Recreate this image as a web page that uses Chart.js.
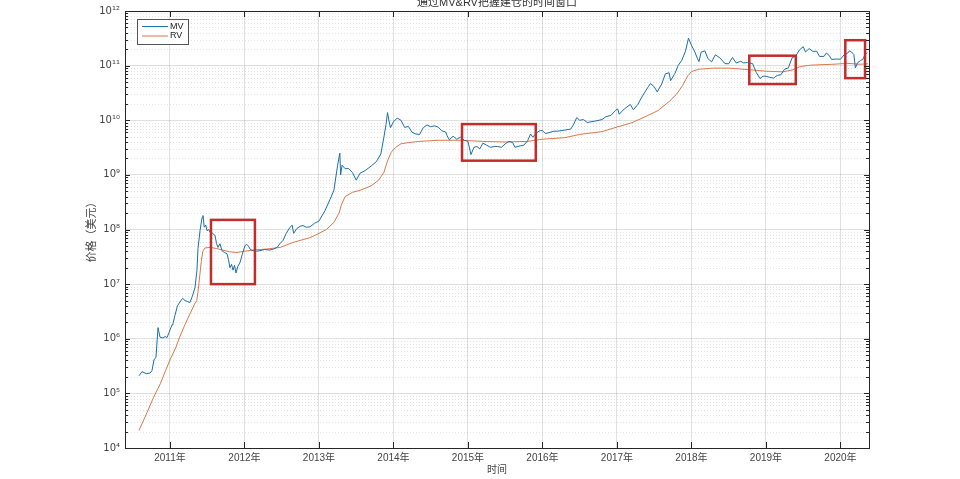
<!DOCTYPE html>
<html>
<head>
<meta charset="utf-8">
<script src="https://cdn.jsdelivr.net/npm/chart.js@4/dist/chart.umd.min.js"></script>
<style>
html,body{margin:0;padding:0;background:#fff;}
#wrap{width:960px;height:479px;position:relative;}
</style>
</head>
<body>
<div id="wrap"><canvas id="c" width="960" height="479"></canvas></div>
<script>
// ---------- data ----------
const chartTitle = '通过MV&RV把握建仓的时间窗口';
const xTitle = '时间';
const yTitle = '价格（美元）';
const seriesNames = ['MV', 'RV'];
const seriesColors = ['#1A6FAE', '#D9784C'];
const yearTicks = [2011, 2012, 2013, 2014, 2015, 2016, 2017, 2018, 2019, 2020];
const xMin = 2010.396, xMax = 2020.383;
const yMin = 1e4, yMax = 1e12;

const mvDates = [
 2010.584,2010.624,2010.68,2010.732,2010.758,2010.785,2010.812,2010.839,2010.866,2010.906,2010.935,2010.96,2010.987,
 2011.027,2011.04,2011.067,2011.10,2011.134,2011.17,2011.201,2011.235,2011.268,2011.30,2011.336,2011.362,2011.376,2011.403,
 2011.43,2011.443,2011.46,2011.48,2011.497,2011.52,2011.537,2011.57,2011.604,2011.625,2011.644,2011.67,2011.698,2011.73,
 2011.765,2011.785,2011.805,2011.826,2011.846,2011.866,2011.886,2011.91,2011.94,2011.97,
 2012.007,2012.027,2012.047,2012.08,2012.114,2012.16,2012.208,2012.27,2012.342,2012.39,2012.436,2012.48,2012.517,2012.56,
 2012.611,2012.64,2012.66,2012.705,2012.75,2012.785,2012.83,2012.879,2012.94,
 2013.0,2013.08,2013.15,2013.2,2013.25,2013.28,2013.29,2013.31,2013.35,2013.4,2013.45,2013.5,2013.55,2013.62,2013.7,2013.77,
 2013.83,2013.87,2013.9,2013.92,2013.94,2013.96,
 2014.0,2014.05,2014.1,2014.15,2014.2,2014.25,2014.3,2014.35,2014.4,2014.45,2014.5,2014.55,2014.6,2014.65,2014.7,2014.72,
 2014.75,2014.8,2014.85,2014.9,2014.95,
 2015.0,2015.04,2015.08,2015.12,2015.16,2015.2,2015.25,2015.3,2015.35,2015.4,2015.45,2015.5,2015.55,2015.6,2015.63,2015.7,
 2015.75,2015.8,2015.84,2015.87,2015.92,2015.97,
 2016.0,2016.04,2016.1,2016.15,2016.2,2016.3,2016.38,2016.42,2016.46,2016.5,2016.55,2016.6,2016.7,2016.8,2016.85,2016.92,2016.98,
 2017.01,2017.03,2017.1,2017.18,2017.22,2017.28,2017.35,2017.42,2017.45,2017.5,2017.54,2017.6,2017.65,2017.7,2017.72,2017.78,
 2017.82,2017.87,2017.92,2017.96,
 2018.0,2018.04,2018.08,2018.1,2018.13,2018.18,2018.22,2018.27,2018.32,2018.38,2018.45,2018.5,2018.55,2018.6,2018.66,2018.7,
 2018.75,2018.82,2018.87,2018.92,2018.96,
 2019.0,2019.05,2019.1,2019.15,2019.2,2019.25,2019.3,2019.35,2019.4,2019.45,2019.5,2019.53,2019.58,2019.63,2019.68,2019.72,
 2019.78,2019.81,2019.85,2019.88,2019.95,
 2020.0,2020.05,2020.1,2020.12,2020.15,2020.18,2020.2,2020.23,2020.27,2020.3,2020.33,2020.36
];
const mvValues = [
 2.1e5,2.5e5,2.3e5,2.35e5,2.6e5,4.1e5,4.6e5,1.6e6,1.07e6,1.03e6,1.1e6,1.05e6,1.3e6,
 1.8e6,1.9e6,2.7e6,4.0e6,4.7e6,5.5e6,5.0e6,4.8e6,4.6e6,6.0e6,8.7e6,1.8e7,4.5e7,9.5e7,
 1.65e8,1.8e8,1.1e8,1.2e8,9.5e7,1.0e8,9.0e7,8.5e7,7.8e7,5.5e7,4.7e7,5.5e7,4.1e7,3.8e7,
 3.6e7,2.8e7,2.0e7,2.3e7,1.8e7,2.2e7,1.6e7,2.1e7,2.5e7,3.5e7,
 5.1e7,5.3e7,5.1e7,4.3e7,4.1e7,4.0e7,4.1e7,4.3e7,4.2e7,4.4e7,4.7e7,5.6e7,6.3e7,8.5e7,
 1.1e8,1.2e8,8.5e7,1.05e8,1.15e8,1.18e8,1.1e8,1.12e8,1.3e8,
 1.43e8,2.2e8,3.6e8,5.2e8,1.5e9,2.5e9,1.0e9,1.5e9,1.3e9,1.3e9,1.1e9,8.0e8,1.07e9,1.2e9,1.45e9,1.75e9,
 2.4e9,4.8e9,8.4e9,1.38e10,9.7e9,7.3e9,
 9.4e9,1.1e10,1.0e10,7.4e9,7.7e9,6.0e9,5.6e9,5.5e9,7.3e9,8.2e9,7.6e9,7.9e9,7.5e9,6.4e9,6.1e9,5.2e9,
 4.4e9,5.1e9,4.5e9,4.9e9,4.3e9,
 4.1e9,2.35e9,3.2e9,3.3e9,3.0e9,3.8e9,3.5e9,3.2e9,3.3e9,3.3e9,3.2e9,3.7e9,4.1e9,3.9e9,3.2e9,3.4e9,
 3.5e9,4.2e9,5.6e9,4.9e9,5.9e9,6.5e9,
 6.45e9,5.7e9,6.0e9,6.3e9,6.3e9,6.6e9,6.9e9,8.5e9,1.12e10,1.0e10,1.03e10,9.1e9,9.6e9,1.03e10,1.16e10,1.23e10,1.52e10,
 1.61e10,1.29e10,1.62e10,1.95e10,1.55e10,1.95e10,2.9e10,4.1e10,4.7e10,4.1e10,3.3e10,4.6e10,7.1e10,7.4e10,5.3e10,7.3e10,
 1.0e11,1.25e11,1.84e11,3.18e11,
 2.35e11,1.85e11,1.35e11,1.18e11,1.77e11,1.86e11,1.35e11,1.17e11,1.58e11,1.39e11,1.09e11,1.08e11,1.41e11,1.12e11,1.2e11,1.12e11,
 1.14e11,1.09e11,7.5e10,5.8e10,6.4e10,
 6.4e10,6.1e10,5.9e10,6.6e10,6.8e10,8.6e10,9.1e10,1.38e11,1.5e11,1.95e11,2.22e11,1.78e11,2.05e11,1.82e11,1.84e11,1.47e11,
 1.48e11,1.7e11,1.53e11,1.3e11,1.32e11,
 1.31e11,1.58e11,1.71e11,1.87e11,1.77e11,1.59e11,9.1e10,1.13e11,1.24e11,1.3e11,1.6e11,1.72e11
];

const rvDates = [
 2010.584,2010.69,2010.78,2010.87,2010.94,2011.0,2011.07,2011.13,2011.20,2011.27,2011.33,2011.36,2011.38,2011.40,2011.42,
 2011.44,2011.47,2011.54,2011.62,2011.71,2011.80,2011.90,2012.0,2012.11,2012.3,2012.48,2012.65,2012.88,
 2013.0,2013.1,2013.2,2013.27,2013.3,2013.35,2013.45,2013.55,2013.7,2013.8,2013.87,2013.92,2013.97,
 2014.03,2014.1,2014.2,2014.35,2014.6,2014.9,2015.2,2015.5,2015.8,2016.0,2016.3,2016.5,2016.8,
 2017.0,2017.2,2017.4,2017.55,2017.7,2017.8,2017.88,2017.95,2018.0,2018.1,2018.3,2018.5,2018.78,
 2019.0,2019.23,2019.35,2019.46,2019.6,2019.9,2020.1,2020.25,2020.37
];
const rvValues = [
 2.1e4,4.4e4,8.5e4,1.5e5,2.6e5,4.1e5,6.5e5,1.07e6,1.8e6,2.9e6,4.3e6,5.0e6,8.0e6,1.45e7,2.6e7,
 4.0e7,4.6e7,4.7e7,4.5e7,4.2e7,3.9e7,3.8e7,4.0e7,4.2e7,4.4e7,4.7e7,5.8e7,7.1e7,
 8.5e7,1.0e8,1.35e8,2.0e8,2.8e8,4.0e8,4.8e8,5.2e8,6.3e8,8.0e8,1.1e9,1.8e9,2.6e9,
 3.2e9,3.7e9,3.9e9,4.1e9,4.3e9,4.3e9,4.1e9,4.0e9,4.1e9,4.5e9,4.8e9,5.5e9,6.2e9,
 7.5e9,9.0e9,1.2e10,1.5e10,2.2e10,3.0e10,4.3e10,6.5e10,7.8e10,8.6e10,9.0e10,9.0e10,8.4e10,
 7.9e10,7.7e10,8.3e10,9.6e10,1.02e11,1.06e11,1.1e11,1.06e11,1.08e11
];

// highlighted windows (red boxes)
const boxStart = [2011.55, 2014.92, 2018.776, 2020.065];
const boxEnd   = [2012.14, 2015.91, 2019.40, 2020.33];
const boxHigh  = [1.5e8, 8.5e9, 1.52e11, 2.92e11];
const boxLow   = [1.0e7, 1.82e9, 4.6e10, 5.9e10];

// ---------- helpers ----------
const SUP = {'0':'⁰','1':'¹','2':'²','3':'³','4':'⁴','5':'⁵','6':'⁶','7':'⁷','8':'⁸','9':'⁹'};
const isMajor = v => Math.abs(Math.log10(v) - Math.round(Math.log10(v))) < 1e-9;
const yTickValues = [];
for (let e = 4; e < 12; e++) for (let m = 1; m <= 9; m++) yTickValues.push(m * Math.pow(10, e));
yTickValues.push(1e12);
const FONT = "'Liberation Sans', 'Noto Sans CJK SC', Arial, sans-serif";
const SUPFONT = "'DejaVu Sans', 'Liberation Sans', sans-serif";
const TXT = '#444';
const AX = '#262626';

const decor = {
  id: 'decor',
  beforeDatasetsDraw(chart) {
    const {ctx, chartArea: a, scales: {y}} = chart;
    ctx.save();
    ctx.strokeStyle = 'rgba(0,0,0,0.11)';
    ctx.lineWidth = 1;
    ctx.setLineDash([1, 2]);
    y.ticks.forEach(t => {
      if (isMajor(t.value)) return;
      const py = Math.round(y.getPixelForValue(t.value)) + 0.5;
      ctx.beginPath(); ctx.moveTo(a.left, py); ctx.lineTo(a.right, py); ctx.stroke();
    });
    ctx.restore();
  },
  afterDatasetsDraw(chart) {
    const {ctx, chartArea: a, scales: {x, y}} = chart;
    ctx.save();
    // red boxes
    ctx.strokeStyle = '#C42B2B';
    ctx.lineWidth = 2.5;
    boxStart.forEach((s, i) => {
      const x0 = x.getPixelForValue(s), x1 = x.getPixelForValue(boxEnd[i]);
      const y0 = y.getPixelForValue(boxHigh[i]), y1 = y.getPixelForValue(boxLow[i]);
      ctx.strokeRect(x0, y0, x1 - x0, y1 - y0);
    });
    // frame
    ctx.strokeStyle = AX; ctx.lineWidth = 1;
    ctx.strokeRect(Math.round(a.left) + 0.5, Math.round(a.top) + 0.5, Math.round(a.right - a.left), Math.round(a.bottom - a.top));
    // inward ticks
    ctx.beginPath();
    y.ticks.forEach(t => {
      const py = Math.round(y.getPixelForValue(t.value)) + 0.5;
      const L = isMajor(t.value) ? 5 : 3;
      ctx.moveTo(a.left, py); ctx.lineTo(a.left + L, py);
      ctx.moveTo(a.right, py); ctx.lineTo(a.right - L, py);
    });
    x.ticks.forEach(t => {
      const px = Math.round(x.getPixelForValue(t.value)) + 0.5;
      ctx.moveTo(px, a.bottom); ctx.lineTo(px, a.bottom - 6);
      ctx.moveTo(px, a.top); ctx.lineTo(px, a.top + 6);
    });
    ctx.stroke();
    // legend
    const lx = a.left + 12, ly = a.top + 8, lw = 51, lh = 25;
    ctx.fillStyle = '#fff';
    ctx.fillRect(lx, ly, lw, lh);
    ctx.strokeStyle = '#555'; ctx.lineWidth = 1;
    ctx.strokeRect(lx + 0.5, ly + 0.5, lw, lh);
    ctx.font = '9px ' + FONT;
    ctx.textBaseline = 'middle'; ctx.textAlign = 'left';
    chart.data.datasets.forEach((ds, i) => {
      const yy = ly + 7.5 + i * 9.5;
      ctx.strokeStyle = ds.borderColor; ctx.lineWidth = 1;
      ctx.beginPath(); ctx.moveTo(lx + 5, yy); ctx.lineTo(lx + 31, yy); ctx.stroke();
      ctx.fillStyle = '#222';
      ctx.fillText(ds.label, lx + 33, yy);
    });
    // title
    ctx.fillStyle = '#333';
    ctx.font = '11px ' + FONT;
    ctx.textAlign = 'center'; ctx.textBaseline = 'bottom';
    ctx.fillText(chartTitle, (a.left + a.right) / 2, 8);
    ctx.restore();
  }
};

new Chart(document.getElementById('c'), {
  type: 'line',
  data: {
    datasets: [
      { label: seriesNames[0], data: mvDates.map((d, i) => ({x: d, y: mvValues[i]})),
        borderColor: seriesColors[0], borderWidth: 1, pointRadius: 0, tension: 0, fill: false },
      { label: seriesNames[1], data: rvDates.map((d, i) => ({x: d, y: rvValues[i]})),
        borderColor: seriesColors[1], borderWidth: 1, pointRadius: 0, tension: 0, fill: false }
    ]
  },
  options: {
    responsive: false,
    animation: false,
    layout: { padding: { left: 80, right: 91, top: 10, bottom: 0 } },
    plugins: { legend: { display: false }, title: { display: false }, tooltip: { enabled: false } },
    scales: {
      x: {
        type: 'linear', min: xMin, max: xMax,
        afterBuildTicks: s => { s.ticks = yearTicks.map(v => ({value: v})); },
        afterFit: s => { s.height = 31; },
        ticks: { autoSkip: false, maxRotation: 0, padding: 4, color: TXT, font: { family: FONT, size: 10 },
                 callback: v => v + '年' },
        grid: { drawTicks: false, color: 'rgba(0,0,0,0.12)', lineWidth: 1 },
        border: { display: false },
        title: { display: true, text: xTitle, color: TXT, font: { family: FONT, size: 10 }, padding: { top: 0, bottom: 3 } }
      },
      y: {
        type: 'logarithmic', min: yMin, max: yMax,
        afterBuildTicks: s => { s.ticks = yTickValues.map(v => ({value: v})); },
        afterFit: s => { s.width = 45; },
        ticks: { autoSkip: false, padding: 5, color: TXT, font: { family: SUPFONT, size: 10 },
                 callback: v => isMajor(v) ? '10' + String(Math.round(Math.log10(v))).split('').map(c => SUP[c]).join('') : '' },
        grid: { drawTicks: false, lineWidth: 1,
                color: c => (c.tick && isMajor(c.tick.value)) ? 'rgba(0,0,0,0.12)' : 'rgba(0,0,0,0)' },
        border: { display: false },
        title: { display: true, text: yTitle, color: TXT, font: { family: FONT, size: 11 }, padding: { top: 5, bottom: 0 } }
      }
    }
  },
  plugins: [decor]
});
</script>
</body>
</html>
